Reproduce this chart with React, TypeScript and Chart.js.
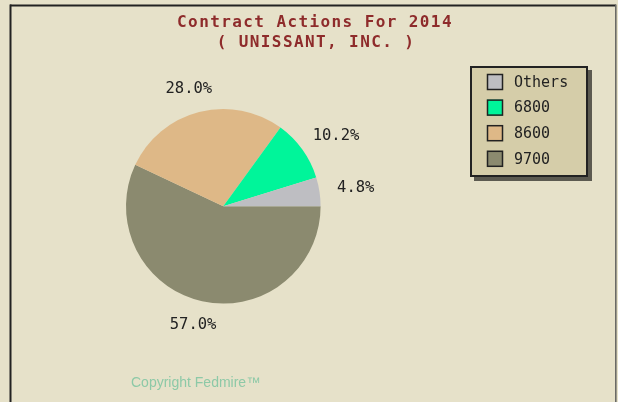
import React, { useEffect, useRef } from "react";
import { Chart, registerables } from "chart.js";

Chart.register(...registerables);

// ---- data ----
const categories = ["Others", "6800", "8600", "9700"];
const shares = [4.8, 10.2, 28.0, 57.0];
const sliceColors = ["#BEBEC2", "#00F59A", "#DEB887", "#8B8A6F"];
const titleLines = ["Contract Actions For 2014", "( UNISSANT, INC. )"];
const copyrightText = "Copyright Fedmire™";

const W = 618;
const H = 402;
const BG = "#E6E1C9";
const MONO = "'DejaVu Sans Mono', 'Liberation Mono', monospace";

const decorPlugin = {
  id: "decor",
  beforeDraw(chart: any) {
    const ctx = chart.ctx as CanvasRenderingContext2D;
    ctx.save();
    ctx.fillStyle = BG;
    ctx.fillRect(0, 0, W, H);
    // frame
    ctx.fillStyle = "#222222";
    ctx.fillRect(10, 4.5, 606, 2);
    ctx.fillRect(9.5, 4.5, 2, H);
    ctx.fillStyle = "#6a6a66";
    ctx.fillRect(615, 4.5, 1.6, H);
    ctx.restore();
  },
  afterDatasetsDraw(chart: any) {
    const ctx = chart.ctx as CanvasRenderingContext2D;
    const meta = chart.getDatasetMeta(0);
    const data = chart.data.datasets[0].data as number[];
    ctx.save();
    // percentage labels
    ctx.font = `15.5px ${MONO}`;
    ctx.fillStyle = "#222222";
    ctx.textAlign = "center";
    ctx.textBaseline = "middle";
    meta.data.forEach((arc: any, i: number) => {
      const p = arc.getProps(["x", "y", "startAngle", "endAngle", "outerRadius"], true);
      const mid = (p.startAngle + p.endAngle) / 2;
      const text = data[i].toFixed(1) + "%";
      const w = ctx.measureText(text).width;
      const h = 12;
      const rr = p.outerRadius + 18;
      const ax = p.x + rr * Math.cos(mid);
      const ay = p.y + rr * Math.sin(mid);
      const cx = ax + (w / 2) * Math.cos(mid);
      const cy = ay + (h / 2) * Math.sin(mid);
      ctx.fillText(text, cx, cy);
    });

    // title
    ctx.fillStyle = "#8E2B2B";
    ctx.font = `bold 16px ${MONO}`;
    (ctx as any).letterSpacing = "1.4px";
    ctx.fillText(titleLines[0], 315, 22.5);
    ctx.fillText(titleLines[1], 316, 42.5);
    (ctx as any).letterSpacing = "0px";

    // legend
    const lx = 470, ly = 66, lw = 118, lh = 111;
    ctx.fillStyle = "#5c5a50";
    ctx.fillRect(lx + 4, ly + 4, lw, lh);
    ctx.fillStyle = "#D5CDA9";
    ctx.fillRect(lx, ly, lw, lh);
    ctx.strokeStyle = "#222222";
    ctx.lineWidth = 2;
    ctx.strokeRect(lx + 1, ly + 1, lw - 2, lh - 2);
    ctx.font = `15px ${MONO}`;
    ctx.textAlign = "left";
    ctx.textBaseline = "middle";
    categories.forEach((name, i) => {
      const sy = 74 + i * 25.6;
      ctx.fillStyle = sliceColors[i];
      ctx.fillRect(487, sy, 16, 16);
      ctx.strokeStyle = "#222222";
      ctx.lineWidth = 1.5;
      ctx.strokeRect(487.5, sy + 0.5, 15, 15);
      ctx.fillStyle = "#222222";
      ctx.fillText(name, 514, sy + 9);
    });

    // copyright
    ctx.font = "14px 'Liberation Sans', Arial, sans-serif";
    ctx.fillStyle = "#8DC9A7";
    ctx.fillText(copyrightText, 131, 383.5);
    ctx.restore();
  },
};

export default function App() {
  const ref = useRef<HTMLCanvasElement | null>(null);
  useEffect(() => {
    if (!ref.current) return;
    // draw clockwise from 3 o'clock: reversed order reproduces the counter-clockwise layout
    const order = [...categories.keys()].reverse();
    const chart = new Chart(ref.current, {
      type: "pie",
      data: {
        labels: order.map((i) => categories[i]),
        datasets: [
          {
            data: order.map((i) => shares[i]),
            backgroundColor: order.map((i) => sliceColors[i]),
            borderWidth: 0,
            hoverOffset: 0,
          },
        ],
      },
      options: {
        responsive: false,
        animation: false,
        events: [],
        rotation: 90,
        layout: { padding: { left: 126, right: 297.4, top: 109, bottom: 98.4 } },
        plugins: {
          legend: { display: false },
          title: { display: false },
          tooltip: { enabled: false },
        },
      },
      plugins: [decorPlugin],
    });
    return () => chart.destroy();
  }, []);
  return (
    <div style={{ position: "absolute", left: 0, top: 0, width: W, height: H }}>
      <canvas ref={ref} width={W} height={H} style={{ display: "block" }} />
    </div>
  );
}
